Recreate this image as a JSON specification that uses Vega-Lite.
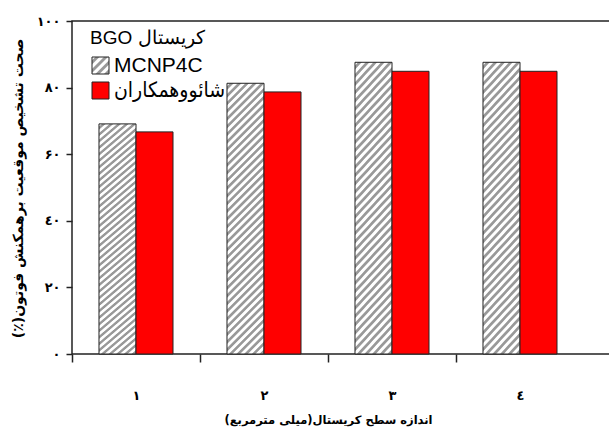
{
  "$schema": "https://vega.github.io/schema/vega-lite/v6.json",
  "autosize": {"type": "none"},
  "padding": {"left": 72, "top": 21, "right": 0, "bottom": 82},
  "width": 540,
  "height": 333,
  "background": "white",
  "data": {
    "values": [
      {"size": "۱", "series": "MCNP4C", "value": 69.1},
      {"size": "۱", "series": "شائووهمکاران", "value": 66.7},
      {"size": "۲", "series": "MCNP4C", "value": 81.3},
      {"size": "۲", "series": "شائووهمکاران", "value": 78.7},
      {"size": "۳", "series": "MCNP4C", "value": 87.6},
      {"size": "۳", "series": "شائووهمکاران", "value": 84.9},
      {"size": "٤", "series": "MCNP4C", "value": 87.6},
      {"size": "٤", "series": "شائووهمکاران", "value": 84.9}
    ]
  },
  "mark": {"type": "bar", "stroke": "#222", "strokeWidth": 1},
  "encoding": {
    "x": {
      "field": "size",
      "type": "nominal",
      "sort": null,
      "scale": {"range": [0, 512], "paddingInner": 0, "paddingOuter": 0},
      "axis": {
        "title": "اندازه سطح کریستال(میلی مترمربع)‏",
        "domain": false,
        "labelAngle": 0,
        "tickSize": 8,
        "tickWidth": 1.5,
        "tickColor": "#222",
        "tickOffset": -64,
        "labelOffset": 64,
        "labelPadding": 27,
        "labelFont": "DejaVu Sans",
        "labelFontWeight": "bold",
        "labelFontSize": 13,
        "labelColor": "#000",
        "titleFont": "DejaVu Sans",
        "titleFontWeight": "bold",
        "titleFontSize": 11.5,
        "titleColor": "#000",
        "titleBaseline": "top",
        "titleY": 60
      }
    },
    "xOffset": {
      "field": "series",
      "type": "nominal",
      "sort": ["MCNP4C", "شائووهمکاران"],
      "scale": {"paddingInner": 0, "paddingOuter": 0.7297}
    },
    "y": {
      "field": "value",
      "type": "quantitative",
      "scale": {"domain": [0, 100]},
      "axis": {
        "title": "صحت تشخیص موقعیت برهمکنش فوتون(٪)‏",
        "domain": false,
        "grid": false,
        "values": [0, 20, 40, 60, 80, 100],
        "labelExpr": "datum.value==0?'۰':datum.value==20?'۲۰':datum.value==40?'٤۰':datum.value==60?'۶۰':datum.value==80?'۸۰':'۱۰۰'",
        "tickSize": 6,
        "tickWidth": 1.5,
        "tickColor": "#222",
        "labelPadding": 6,
        "labelFont": "DejaVu Sans",
        "labelFontWeight": "bold",
        "labelFontSize": 13,
        "labelColor": "#000",
        "titleFont": "DejaVu Sans",
        "titleFontWeight": "bold",
        "titleFontSize": 14,
        "titleColor": "#000",
        "titleBaseline": "middle",
        "titleX": -54,
        "titleY": 167
      }
    },
    "fill": {
      "field": "series",
      "type": "nominal",
      "scale": {
        "domain": ["MCNP4C", "شائووهمکاران"],
        "range": [
          {"expr": "{gradient: 'linear', x1: 0, y1: 0, x2: 1, y2: 1, stops: [{offset: 0.08, color: '#fff'}, {offset: 0.12, color: '#999'}, {offset: 0.2, color: '#999'}, {offset: 0.24, color: '#fff'}, {offset: 0.33, color: '#fff'}, {offset: 0.37, color: '#999'}, {offset: 0.45, color: '#999'}, {offset: 0.49, color: '#fff'}, {offset: 0.58, color: '#fff'}, {offset: 0.62, color: '#999'}, {offset: 0.7, color: '#999'}, {offset: 0.74, color: '#fff'}, {offset: 0.83, color: '#fff'}, {offset: 0.87, color: '#999'}, {offset: 0.95, color: '#999'}, {offset: 0.99, color: '#fff'}]}"},
          "#ff0000"
        ]
      },
      "condition": {
        "test": "datum.series === 'MCNP4C'",
        "value": {
          "gradient": "linear", "x1": 0, "y1": 0, "x2": 0.153, "y2": 1.116,
          "stops": [
            {"offset":0.008,"color":"#fff"},{"offset":0.012,"color":"#999"},{"offset":0.020,"color":"#999"},{"offset":0.024,"color":"#fff"},
            {"offset":0.033,"color":"#fff"},{"offset":0.037,"color":"#999"},{"offset":0.045,"color":"#999"},{"offset":0.049,"color":"#fff"},
            {"offset":0.058,"color":"#fff"},{"offset":0.062,"color":"#999"},{"offset":0.070,"color":"#999"},{"offset":0.074,"color":"#fff"},
            {"offset":0.083,"color":"#fff"},{"offset":0.087,"color":"#999"},{"offset":0.095,"color":"#999"},{"offset":0.099,"color":"#fff"},
            {"offset":0.108,"color":"#fff"},{"offset":0.112,"color":"#999"},{"offset":0.120,"color":"#999"},{"offset":0.124,"color":"#fff"},
            {"offset":0.133,"color":"#fff"},{"offset":0.137,"color":"#999"},{"offset":0.145,"color":"#999"},{"offset":0.149,"color":"#fff"},
            {"offset":0.158,"color":"#fff"},{"offset":0.162,"color":"#999"},{"offset":0.170,"color":"#999"},{"offset":0.174,"color":"#fff"},
            {"offset":0.183,"color":"#fff"},{"offset":0.187,"color":"#999"},{"offset":0.195,"color":"#999"},{"offset":0.199,"color":"#fff"},
            {"offset":0.208,"color":"#fff"},{"offset":0.212,"color":"#999"},{"offset":0.220,"color":"#999"},{"offset":0.224,"color":"#fff"},
            {"offset":0.233,"color":"#fff"},{"offset":0.237,"color":"#999"},{"offset":0.245,"color":"#999"},{"offset":0.249,"color":"#fff"},
            {"offset":0.258,"color":"#fff"},{"offset":0.262,"color":"#999"},{"offset":0.270,"color":"#999"},{"offset":0.274,"color":"#fff"},
            {"offset":0.283,"color":"#fff"},{"offset":0.287,"color":"#999"},{"offset":0.295,"color":"#999"},{"offset":0.299,"color":"#fff"},
            {"offset":0.308,"color":"#fff"},{"offset":0.312,"color":"#999"},{"offset":0.320,"color":"#999"},{"offset":0.324,"color":"#fff"},
            {"offset":0.333,"color":"#fff"},{"offset":0.337,"color":"#999"},{"offset":0.345,"color":"#999"},{"offset":0.349,"color":"#fff"},
            {"offset":0.358,"color":"#fff"},{"offset":0.362,"color":"#999"},{"offset":0.370,"color":"#999"},{"offset":0.374,"color":"#fff"},
            {"offset":0.383,"color":"#fff"},{"offset":0.387,"color":"#999"},{"offset":0.395,"color":"#999"},{"offset":0.399,"color":"#fff"},
            {"offset":0.408,"color":"#fff"},{"offset":0.412,"color":"#999"},{"offset":0.420,"color":"#999"},{"offset":0.424,"color":"#fff"},
            {"offset":0.433,"color":"#fff"},{"offset":0.437,"color":"#999"},{"offset":0.445,"color":"#999"},{"offset":0.449,"color":"#fff"},
            {"offset":0.458,"color":"#fff"},{"offset":0.462,"color":"#999"},{"offset":0.470,"color":"#999"},{"offset":0.474,"color":"#fff"},
            {"offset":0.483,"color":"#fff"},{"offset":0.487,"color":"#999"},{"offset":0.495,"color":"#999"},{"offset":0.499,"color":"#fff"},
            {"offset":0.508,"color":"#fff"},{"offset":0.512,"color":"#999"},{"offset":0.520,"color":"#999"},{"offset":0.524,"color":"#fff"},
            {"offset":0.533,"color":"#fff"},{"offset":0.537,"color":"#999"},{"offset":0.545,"color":"#999"},{"offset":0.549,"color":"#fff"},
            {"offset":0.558,"color":"#fff"},{"offset":0.562,"color":"#999"},{"offset":0.570,"color":"#999"},{"offset":0.574,"color":"#fff"},
            {"offset":0.583,"color":"#fff"},{"offset":0.587,"color":"#999"},{"offset":0.595,"color":"#999"},{"offset":0.599,"color":"#fff"},
            {"offset":0.608,"color":"#fff"},{"offset":0.612,"color":"#999"},{"offset":0.620,"color":"#999"},{"offset":0.624,"color":"#fff"},
            {"offset":0.633,"color":"#fff"},{"offset":0.637,"color":"#999"},{"offset":0.645,"color":"#999"},{"offset":0.649,"color":"#fff"},
            {"offset":0.658,"color":"#fff"},{"offset":0.662,"color":"#999"},{"offset":0.670,"color":"#999"},{"offset":0.674,"color":"#fff"},
            {"offset":0.683,"color":"#fff"},{"offset":0.687,"color":"#999"},{"offset":0.695,"color":"#999"},{"offset":0.699,"color":"#fff"},
            {"offset":0.708,"color":"#fff"},{"offset":0.712,"color":"#999"},{"offset":0.720,"color":"#999"},{"offset":0.724,"color":"#fff"},
            {"offset":0.733,"color":"#fff"},{"offset":0.737,"color":"#999"},{"offset":0.745,"color":"#999"},{"offset":0.749,"color":"#fff"},
            {"offset":0.758,"color":"#fff"},{"offset":0.762,"color":"#999"},{"offset":0.770,"color":"#999"},{"offset":0.774,"color":"#fff"},
            {"offset":0.783,"color":"#fff"},{"offset":0.787,"color":"#999"},{"offset":0.795,"color":"#999"},{"offset":0.799,"color":"#fff"},
            {"offset":0.808,"color":"#fff"},{"offset":0.812,"color":"#999"},{"offset":0.820,"color":"#999"},{"offset":0.824,"color":"#fff"},
            {"offset":0.833,"color":"#fff"},{"offset":0.837,"color":"#999"},{"offset":0.845,"color":"#999"},{"offset":0.849,"color":"#fff"},
            {"offset":0.858,"color":"#fff"},{"offset":0.862,"color":"#999"},{"offset":0.870,"color":"#999"},{"offset":0.874,"color":"#fff"},
            {"offset":0.883,"color":"#fff"},{"offset":0.887,"color":"#999"},{"offset":0.895,"color":"#999"},{"offset":0.899,"color":"#fff"},
            {"offset":0.908,"color":"#fff"},{"offset":0.912,"color":"#999"},{"offset":0.920,"color":"#999"},{"offset":0.924,"color":"#fff"},
            {"offset":0.933,"color":"#fff"},{"offset":0.937,"color":"#999"},{"offset":0.945,"color":"#999"},{"offset":0.949,"color":"#fff"},
            {"offset":0.958,"color":"#fff"},{"offset":0.962,"color":"#999"},{"offset":0.970,"color":"#999"},{"offset":0.974,"color":"#fff"},
            {"offset":0.983,"color":"#fff"},{"offset":0.987,"color":"#999"},{"offset":0.995,"color":"#999"},{"offset":0.999,"color":"#fff"}
          ]
        }
      },
      "legend": {
        "orient": "none",
        "legendX": 18,
        "legendY": 8,
        "title": "BGO کریستال",
        "titleFont": "Liberation Sans",
        "titleFontSize": 19,
        "titleFontWeight": "normal",
        "titleColor": "#000",
        "titlePadding": 7,
        "labelFont": "Liberation Sans, DejaVu Sans Condensed",
        "labelFontSize": 21,
        "labelColor": "#000",
        "labelOffset": 3,
        "symbolType": "square",
        "symbolSize": 289,
        "symbolStrokeColor": "#222",
        "symbolStrokeWidth": 1,
        "rowPadding": 3
      }
    }
  },
  "config": {
    "view": {"stroke": "#222", "strokeWidth": 1.5},
    "axis": {"grid": false}
  }
}
